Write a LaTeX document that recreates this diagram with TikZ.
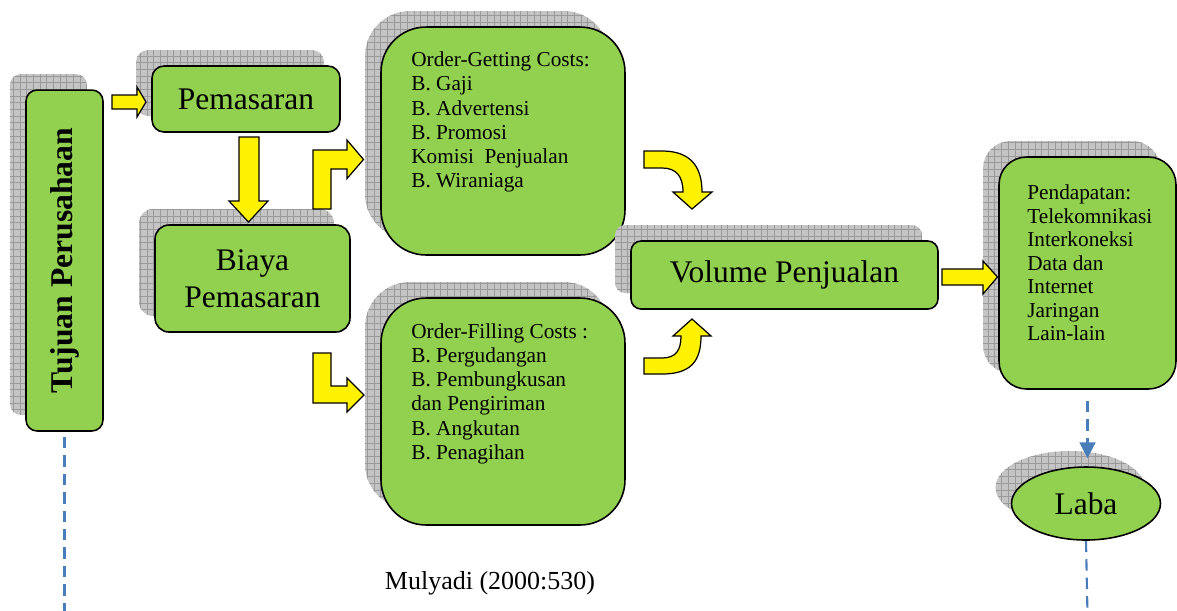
\documentclass[tikz,border=0pt]{standalone}
\usepackage{fontspec}
\setmainfont{Liberation Serif}
\usetikzlibrary{shadows,patterns,arrows.meta,shapes.geometric}
\definecolor{boxgreen}{HTML}{92D050}
\definecolor{shadowgray}{HTML}{C4C4C4}
\definecolor{gridgray}{HTML}{9A9A9A}
\definecolor{dashblue}{HTML}{4A7EBB}
\pgfdeclarepatternformonly{shadowgrid}{\pgfqpoint{-1pt}{-1pt}}{\pgfqpoint{5pt}{5pt}}{\pgfqpoint{3.8pt}{3.8pt}}{%
  \pgfsetlinewidth{0.35pt}%
  \pgfpathmoveto{\pgfqpoint{0pt}{0pt}}\pgfpathlineto{\pgfqpoint{0pt}{3.81pt}}%
  \pgfpathmoveto{\pgfqpoint{0pt}{0pt}}\pgfpathlineto{\pgfqpoint{3.81pt}{0pt}}%
  \pgfusepath{stroke}}
\begin{document}
\begin{tikzpicture}[x=0.02cm,y=-0.02cm,
  shad/.style={
    general shadow={shadow xshift=-0.32cm, shadow yshift=0.32cm, fill=shadowgray},
    general shadow={shadow xshift=-0.32cm, shadow yshift=0.32cm, pattern=shadowgrid, pattern color=gridgray}},
  box/.style={shad, draw=black, line width=0.9pt, fill=boxgreen, rounded corners=#1, inner sep=0pt, align=center},
  box/.default=0.22cm,
  bigtxt/.style={font=\fontsize{17.9}{21}\selectfont},
  listtxt/.style={inner sep=0pt, align=left, anchor=north west, font=\fontsize{12.1}{13.8}\selectfont},
  yarrow/.style={fill=yellow, draw=black, line width=0.7pt, line join=miter},
  dashline/.style={draw=dashblue, line width=1.2pt, dash pattern=on 6.5pt off 4pt}
]
\useasboundingbox (0,0) rectangle (1177,610);
\fill[white] (0,0) rectangle (1177,610);

% boxes
\node[box=0.22cm, minimum width=1.54cm, minimum height=6.82cm] (tujuan) at (64.5,260.5)
  {\rotatebox{90}{\fontsize{18}{21}\selectfont\bfseries Tujuan Perusahaan}};
\node[box=0.24cm, bigtxt, minimum width=3.76cm, minimum height=1.32cm] (pemasaran) at (246,99) {Pemasaran};
\node[box=0.28cm, bigtxt, minimum width=3.9cm, minimum height=2.14cm] (biaya) at (252.5,278.5) {Biaya\\Pemasaran};
\node[box=0.9cm, minimum width=4.88cm, minimum height=4.56cm] (getting) at (503,141) {};
\node[box=0.9cm, minimum width=4.88cm, minimum height=4.54cm] (filling) at (503,411.5) {};
\node[box=0.2cm, bigtxt, minimum width=6.14cm, minimum height=1.36cm] (volume) at (784.5,275) {Volume Penjualan};
\node[box=0.55cm, minimum width=3.54cm, minimum height=4.64cm] (pendapatan) at (1087.5,273) {};
\node[shad, ellipse, draw=black, line width=0.9pt, fill=boxgreen, inner sep=0pt, bigtxt,
  minimum width=2.98cm, minimum height=1.46cm] (laba) at (1086,503.5) {Laba};

% list texts
\node[listtxt] (gettingtxt) at (411,51.5) {Order-Getting Costs:\\B. Gaji\\B. Advertensi\\B. Promosi\\Komisi\ \ Penjualan\\B. Wiraniaga};
\node[listtxt] (fillingtxt) at (411,323) {Order-Filling Costs :\\B. Pergudangan\\B. Pembungkusan\\dan Pengiriman\\B. Angkutan\\B. Penagihan};
\node[listtxt, font=\fontsize{12.1}{13.4}\selectfont] (pendtxt) at (1027,184.5) {Pendapatan:\\Telekomnikasi\\Interkoneksi\\Data dan\\Internet\\Jaringan\\Lain-lain};

% block arrows
\draw[yarrow] (112,95) -- (137,95) -- (137,87) -- (146,102) -- (137,117) -- (137,109) -- (112,109) -- cycle;
\draw[yarrow] (239,137) -- (259,137) -- (259,201) -- (268,201) -- (248.5,222) -- (229,201) -- (239,201) -- cycle;
\draw[yarrow] (313,209) -- (313,150) -- (347,150) -- (347,140) -- (363.5,159.5) -- (347,178.5) -- (347,169) -- (331,169) -- (331,209) -- cycle;
\draw[yarrow] (313,353) -- (331,353) -- (331,386) -- (347,386) -- (347,378) -- (364,395) -- (347,412) -- (347,403) -- (313,403) -- cycle;
\draw[yarrow] (644,151) -- (662,151) .. controls (690,151) and (702,166) .. (702,192) -- (712,192) -- (692,209) -- (673,192) -- (683,192) .. controls (683,176) and (676,168) .. (662,168) -- (644,168) -- cycle;
\draw[yarrow] (644,374) -- (662,374) .. controls (690,374) and (701,362) .. (701,336) -- (711,336) -- (692,319) -- (673,336) -- (681,336) .. controls (681,350) and (676,358) .. (662,358) -- (644,358) -- cycle;
\draw[yarrow] (942,269) -- (983,269) -- (983,261) -- (997.5,277) -- (983,294) -- (983,285) -- (942,285) -- cycle;

% dashed connectors
\coordinate (labaend) at (1087.5,615);
\coordinate (tujend) at (63.5,615);
\draw[dashline, -{Triangle[width=9pt,length=9pt]}, shorten <=0.22cm, shorten >=0.16cm]
  (pendapatan.south) -- (pendapatan.south |- laba.north);
\draw[dashline] (laba.south) -- (labaend);
\draw[dashline, shorten <=0.1cm] (tujuan.south) -- (tujuan.south |- tujend);

% source
\node[font=\fontsize{14.8}{17}\selectfont, inner sep=0pt] (src) at (490,583) {Mulyadi (2000:530)};
\end{tikzpicture}
\end{document}
